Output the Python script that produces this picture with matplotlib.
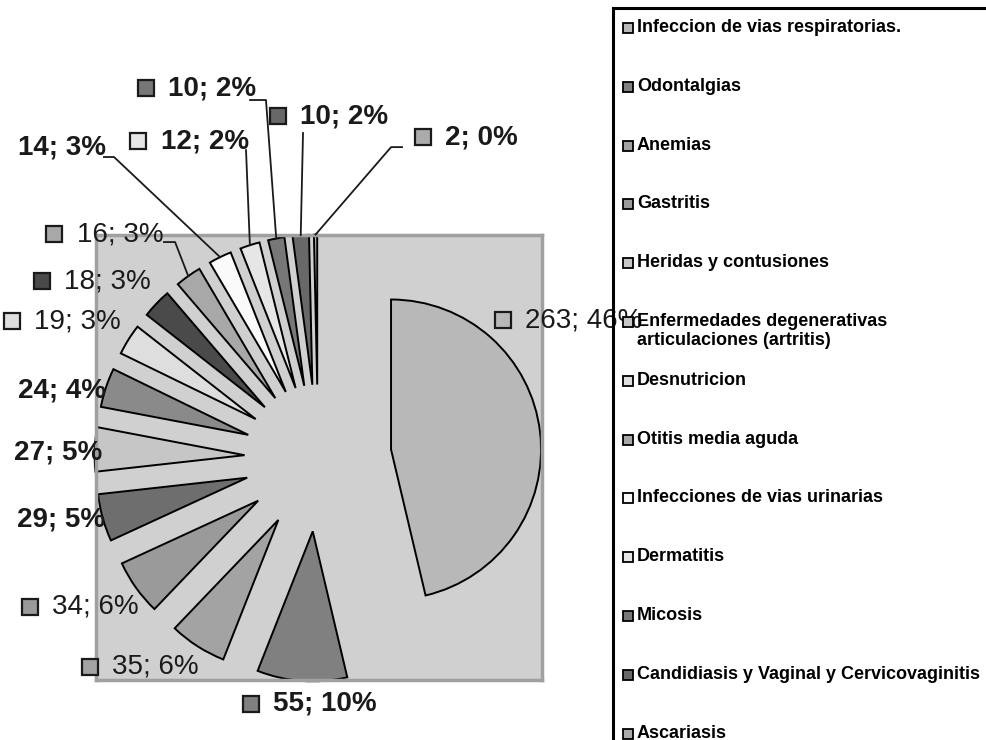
import numpy as np
import matplotlib.pyplot as plt
from matplotlib.patches import Rectangle

plt.rcParams['font.family'] = ['Liberation Sans', 'DejaVu Sans']

# datos (orden del pastel, empezando arriba y en sentido horario)
valores = [263, 55, 35, 34, 29, 27, 24, 19, 18, 16, 14, 12, 10, 10, 2]
porcentajes = [46, 10, 6, 6, 5, 5, 4, 3, 3, 3, 3, 2, 2, 2, 0]
categorias = ['Infeccion de vias respiratorias.', 'Odontalgias', 'Anemias', 'Gastritis',
              'Heridas y contusiones',
              'Enfermedades degenerativas\narticulaciones (artritis)',
              'Desnutricion', 'Otitis media aguda', 'Infecciones de vias urinarias',
              'Dermatitis', 'Micosis', 'Candidiasis y Vaginal y Cervicovaginitis',
              'Ascariasis']

colores = ['#B8B8B8', '#808080', '#A3A3A3', '#9A9A9A', '#6E6E6E', '#C6C6C6', '#8A8A8A',
           '#DEDEDE', '#4A4A4A', '#A8A8A8', '#FAFAFA', '#E6E6E6', '#777777', '#686868',
           '#ABABAB']
colores_leyenda = ['#B8B8B8', '#808080', '#A3A3A3', '#9A9A9A', '#C6C6C6', '#C6C6C6',
                   '#DEDEDE', '#A8A8A8', '#FAFAFA', '#E6E6E6', '#777777', '#686868', '#ABABAB']

# posicion de las etiquetas (inicio del texto, centro vertical) en unidades del pastel
etq_x = [1.38, -0.30, -1.373, -1.773, -2.007, -2.027, -2.0, -1.893, -1.693, -1.607,
         -2.0, -1.047, -1.0, -0.12, 0.847]
etq_y = [0.92, -1.64, -1.393, -0.993, -0.413, 0.04, 0.453, 0.913, 1.18, 1.493,
         2.073, 2.113, 2.467, 2.28, 2.14]
con_clave = [True, True, True, True, False, False, False, True, True, True,
             False, True, True, True, True]
peso = ['normal', 'bold', 'normal', 'normal', 'bold', 'bold', 'bold', 'normal', 'normal',
        'normal', 'bold', 'bold', 'bold', 'bold', 'bold']
# lineas guia: (inicio, codo); el final va al borde de la porcion
guias = {9: [(-1.027, 1.44), (-0.953, 1.44)],
         10: [(-1.427, 2.007), (-1.36, 2.007)],
         11: [(-0.48, 2.053), (-0.48, 2.053)],
         12: [(-0.453, 2.387), (-0.347, 2.387)],
         13: [(-0.1, 2.167), (-0.1, 2.167)],
         14: [(0.56, 2.073), (0.487, 2.073)]}

fig = plt.figure(figsize=(9.87, 7.40), dpi=100)
ax = fig.add_axes([96 / 987, 1 - 680 / 740, 446 / 987, 445 / 740])

wedges, _ = ax.pie(valores, colors=colores, startangle=90, counterclock=False,
                   explode=[0.49] * len(valores), frame=True,
                   wedgeprops=dict(edgecolor='black', linewidth=1.4))
ax.set_aspect('auto')
ax.set_xlim(-1.48, 1.493)
ax.set_ylim(-1.48, 1.487)
ax.set_xticks([])
ax.set_yticks([])
ax.set_facecolor('#D0D0D0')
for s in ax.spines.values():
    s.set_color('#A0A0A0')
    s.set_linewidth(2.5)

for i, w in enumerate(wedges):
    txt = f'{valores[i]}; {porcentajes[i]}%'
    ax.text(etq_x[i], etq_y[i], txt, fontsize=20, fontweight=peso[i],
            ha='left', va='center', color='#1a1a1a', zorder=5)
    if con_clave[i]:
        ax.plot([etq_x[i] - 0.15], [etq_y[i]], marker='s', ms=11, mfc=colores[i],
                mec='#1a1a1a', mew=1.6, clip_on=False, zorder=5)
    if i in guias:
        ang = np.deg2rad((w.theta1 + w.theta2) / 2)
        cx, cy = w.center
        punta = (cx + w.r * np.cos(ang), cy + w.r * np.sin(ang))
        (x0, y0), (x1, y1) = guias[i]
        ax.plot([x0, x1, punta[0]], [y0, y1, punta[1]], color='#1a1a1a', lw=1.3,
                clip_on=False, zorder=4)

# leyenda (sin relleno, cortada por el borde de la figura)
fig.patches.append(Rectangle((613 / 987, -0.2), 0.5, 1.2 - 8 / 740, fill=False,
                             edgecolor='black', linewidth=2.2,
                             transform=fig.transFigure, zorder=6))
for i, cat in enumerate(categorias):
    ypix = 28 + 58.8 * i
    fig.patches.append(Rectangle((623 / 987, 1 - (ypix + 5) / 740), 10 / 987, 10 / 740,
                                 facecolor=colores_leyenda[i], edgecolor='black',
                                 linewidth=1.3, transform=fig.transFigure, zorder=7))
    fig.text(637 / 987, 1 - (ypix - 9) / 740, cat, fontsize=13, fontweight='bold',
             ha='left', va='top', linespacing=1.12, zorder=7)

fig.savefig('out.png', dpi=100)
